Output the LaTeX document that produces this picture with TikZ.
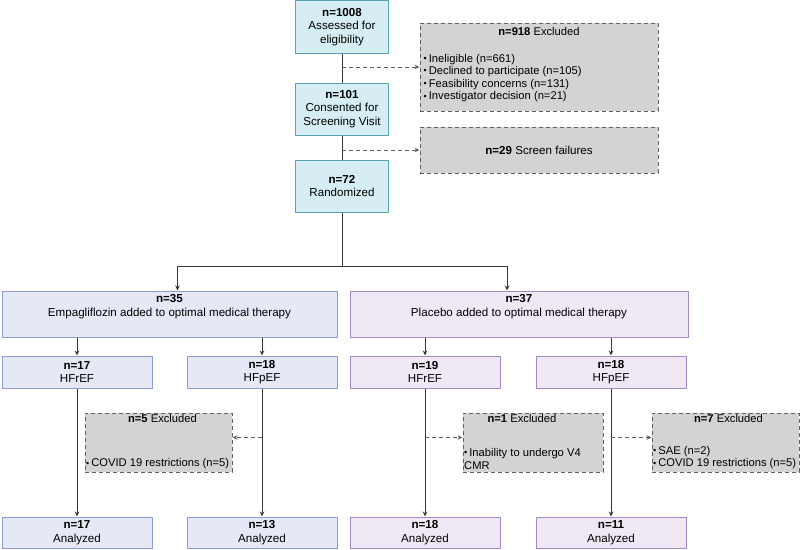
\documentclass[tikz,border=0pt]{standalone}
\usepackage{fontspec}
\setmainfont{Liberation Sans}
\usetikzlibrary{arrows,arrows.meta,shapes,positioning}
\definecolor{dfteal}{RGB}{88,163,180}
\definecolor{dfcyan}{RGB}{214,238,243}
\definecolor{dfblue}{RGB}{142,155,214}
\definecolor{dflightblue}{RGB}{229,233,246}
\definecolor{dfpurple}{RGB}{164,138,201}
\definecolor{dflightpurple}{RGB}{240,232,244}
\definecolor{dfgrey}{RGB}{95,96,99}
\definecolor{dflightgrey}{RGB}{209,211,212}
\definecolor{dfdark}{RGB}{55,55,55}
\newcommand{\mainfs}{\fontsize{11.6}{13.5}\selectfont}
\newcommand{\exfs}{\fontsize{11.2}{12.6}\selectfont}
\newcommand{\bul}{\raisebox{.15ex}{\scalebox{.8}{\textbullet}}\hspace{2pt}}
\tikzstyle{arrow} = [line width=1pt,->,>={Stealth[length=5pt,width=4.5pt]},color=dfdark]
\tikzstyle{dasharrow} = [line width=1pt,->,>={Stealth[length=5pt,width=4.5pt]},color=dfgrey,dash pattern=on 4pt off 3pt]
\tikzstyle{line} = [line width=1pt,color=dfdark]
\tikzstyle{screening} = [rectangle, minimum width=93pt, minimum height=52pt, text centered, align=center, inner sep=0pt, draw=dfteal, fill=dfcyan, line width=1pt, font=\mainfs]
\tikzstyle{armblue} = [rectangle, minimum width=150pt, minimum height=32pt, align=center, inner sep=0pt, draw=dfblue, fill=dflightblue, line width=1pt, font=\mainfs]
\tikzstyle{armpurple} = [armblue, draw=dfpurple, fill=dflightpurple]
\tikzstyle{armtext} = [align=center, inner sep=0pt, font=\mainfs]
\tikzstyle{excluded} = [rectangle, minimum height=59pt, inner sep=0pt, draw=dfgrey, fill=dflightgrey, line width=1pt, dash pattern=on 4pt off 3pt]
\tikzstyle{extitle} = [inner sep=0pt, font=\exfs]
\tikzstyle{exlist} = [align=left, inner sep=0pt, font=\exfs]

\begin{document}
\begin{tikzpicture}[x=1pt,y=-1pt]
\useasboundingbox (0,0) rectangle (800,549);
% Screening
\node[screening, minimum height=53pt] (assess) at (342,27) {\textbf{n=1008}\\Assessed for\\eligibility};
\node[screening] (consent) at (342,109) {\textbf{n=101}\\Consented for\\Screening Visit};
\node[screening] (random) at (342,186) {\textbf{n=72}\\Randomized};

% Excluded before randomization
\node[excluded, minimum width=238pt, minimum height=88pt] (ex918) at (539,67) {};
\node[extitle, below=5pt of ex918.north] (ex918t) {\textbf{n=918} Excluded};
\node[exlist, anchor=south west] (ex918l) at ([xshift=4pt,yshift=9pt]ex918.south west)
  {\bul Ineligible (n=661)\\\bul Declined to participate (n=105)\\\bul Feasibility concerns (n=131)\\\bul Investigator decision (n=21)};
\node[excluded, minimum width=238pt, minimum height=46pt, font=\mainfs] (fail) at (539,150) {\textbf{n=29} Screen failures};

\draw[line] (assess) -- (consent);
\draw[line] (consent) -- (random);
\draw[dasharrow] (assess.south |- ex918.west) -- (ex918.west);
\draw[dasharrow] (consent.south |- fail.west) -- (fail.west);

% Randomization
\node[armblue, minimum width=335pt, minimum height=46pt] (empa) at (169.5,314) {};
\node[armtext, below=4pt of empa.north] (empat) {\textbf{n=35}\\Empagliflozin added to optimal medical therapy};
\node[armpurple, minimum width=338pt, minimum height=46pt] (plac) at (519,314) {};
\node[armtext, below=4pt of plac.north] (plact) {\textbf{n=37}\\Placebo added to optimal medical therapy};

\draw[line] (random.south) -- ++(0,54) coordinate (split);
\draw[arrow] (split) -| ([xshift=8pt]empa.north);
\draw[arrow] (split) -| ([xshift=-12pt]plac.north);

% Subgroups
\node[armblue] (r1) at (77,372) {\textbf{n=17}\\HFrEF};
\node[armblue] (p1) at (262,372) {\textbf{n=18}\\HFpEF};
\node[armpurple] (r2) at (425,372) {\textbf{n=19}\\HFrEF};
\node[armpurple] (p2) at (611,372) {\textbf{n=18}\\HFpEF};

\foreach \g in {r1,p1}
  \draw[arrow] (\g.north |- empa.south) -- (\g.north);
\foreach \g in {r2,p2}
  \draw[arrow] (\g.north |- plac.south) -- (\g.north);

% Analyzed
\node[armblue, minimum height=31pt] (a1) at (77,532.5) {\textbf{n=17}\\Analyzed};
\node[armblue, minimum height=31pt] (a2) at (262,532.5) {\textbf{n=13}\\Analyzed};
\node[armpurple, minimum height=31pt] (a3) at (425,532.5) {\textbf{n=18}\\Analyzed};
\node[armpurple, minimum height=31pt] (a4) at (611,532.5) {\textbf{n=11}\\Analyzed};

\draw[arrow] (r1) -- (a1);
\draw[arrow] (p1) -- (a2);
\draw[arrow] (r2) -- (a3);
\draw[arrow] (p2) -- (a4);

% Excluded after randomization
\node[excluded, minimum width=147pt] (ex5) at (158.5,442.5) {};
\node[extitle, below=2pt of ex5.north, xshift=4pt] (ex5t) {\textbf{n=5} Excluded};
\node[exlist, anchor=south west] (ex5l) at ([xshift=1.5pt,yshift=3pt]ex5.south west) {\bul COVID 19 restrictions (n=5)};

\node[excluded, minimum width=140pt] (ex1) at (533,442.5) {};
\node[extitle, below=2pt of ex1.north, xshift=-11pt] (ex1t) {\textbf{n=1} Excluded};
\node[exlist, anchor=south west] (ex1l) at ([xshift=1.5pt,yshift=3pt]ex1.south west) {\bul Inability to undergo V4\\CMR};

\node[excluded, minimum width=147pt] (ex7) at (725.5,442.5) {};
\node[extitle, below=2pt of ex7.north, xshift=3pt] (ex7t) {\textbf{n=7} Excluded};
\node[exlist, anchor=south west] (ex7l) at ([xshift=1.5pt,yshift=3pt]ex7.south west) {\bul SAE (n=2)\\\bul COVID 19 restrictions (n=5)};

\coordinate (e5) at ([yshift=5pt]ex5.east);
\coordinate (e1) at ([yshift=5pt]ex1.west);
\coordinate (e7) at ([yshift=5pt]ex7.west);
\draw[dasharrow] (e5 -| p1.south) -- (e5);
\draw[dasharrow] (e1 -| r2.south) -- (e1);
\draw[dasharrow] (e7 -| p2.south) -- (e7);
\end{tikzpicture}
\end{document}
